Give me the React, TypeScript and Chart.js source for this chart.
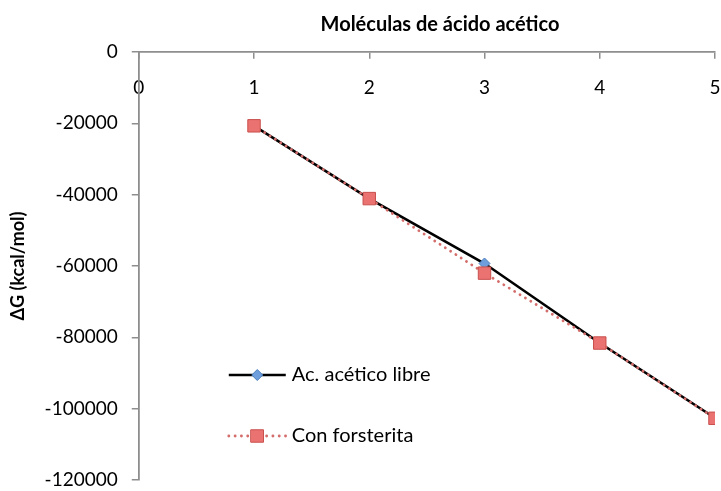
import React, { useEffect, useRef } from 'react';
import { Chart, registerables } from 'chart.js';

Chart.register(...registerables);

// ---- data ----
const categories = [1, 2, 3, 4, 5];
const acidoLibre = [-20700, -41100, -59300, -81600, -102600];
const conForsterita = [-20700, -41100, -62000, -81600, -102700];
const seriesNames = ['Ac. acético libre', 'Con forsterita'];
const xTickValues = [0, 1, 2, 3, 4, 5];
const yTickValues = [0, -20000, -40000, -60000, -80000, -100000, -120000];
const chartTitle = 'Moléculas de ácido acético';
const yAxisTitle = 'ΔG (kcal/mol)';

const FONT = 'Lato';

function drawMarker(ctx: CanvasRenderingContext2D, style: string, x: number, y: number, r: number, fill: string, stroke: string) {
  ctx.beginPath();
  if (style === 'rectRot') {
    ctx.moveTo(x, y - r);
    ctx.lineTo(x + r, y);
    ctx.lineTo(x, y + r);
    ctx.lineTo(x - r, y);
    ctx.closePath();
  } else {
    const s = r * Math.SQRT1_2;
    ctx.rect(x - s, y - s, 2 * s, 2 * s);
  }
  ctx.fillStyle = fill;
  ctx.fill();
  ctx.lineWidth = 1;
  ctx.strokeStyle = stroke;
  ctx.stroke();
}

// title centred over the whole (wider than the window) chart canvas
const wideTitle = {
  id: 'wideTitle',
  afterDraw(chart: any) {
    const ctx: CanvasRenderingContext2D = chart.ctx;
    ctx.save();
    ctx.fillStyle = '#000';
    ctx.font = `bold 20px ${FONT}`;
    ctx.textAlign = 'center';
    ctx.textBaseline = 'middle';
    ctx.fillText(chartTitle, chart.width / 2, 25);
    ctx.restore();
  },
};

const insideLegend = {
  id: 'insideLegend',
  afterDatasetsDraw(chart: any) {
    const ctx: CanvasRenderingContext2D = chart.ctx;
    const left = chart.chartArea.left;
    const rowsY = [375, 436];
    chart.data.datasets.forEach((ds: any, i: number) => {
      const y = rowsY[i];
      const x0 = left + 90;
      const x1 = left + 147;
      ctx.save();
      ctx.strokeStyle = ds.borderColor;
      ctx.lineWidth = ds.borderWidth;
      ctx.lineCap = ds.borderCapStyle || 'butt';
      ctx.setLineDash(ds.borderDash || []);
      ctx.beginPath();
      ctx.moveTo(x0, y);
      ctx.lineTo(x1, y);
      ctx.stroke();
      ctx.setLineDash([]);
      drawMarker(ctx, ds.pointStyle, (x0 + x1) / 2, y, ds.pointRadius, ds.pointBackgroundColor, ds.pointBorderColor);
      ctx.fillStyle = '#000';
      ctx.font = `20px ${FONT}`;
      ctx.textBaseline = 'middle';
      ctx.textAlign = 'left';
      ctx.fillText(ds.label, x1 + 6, y);
      ctx.restore();
    });
  },
};

export default function App() {
  const canvasRef = useRef<HTMLCanvasElement | null>(null);

  useEffect(() => {
    if (!canvasRef.current) return;
    const chart = new Chart(canvasRef.current, {
      type: 'line',
      data: {
        datasets: [
          {
            label: seriesNames[0],
            data: categories.map((c, i) => ({ x: c, y: acidoLibre[i] })),
            borderColor: '#000000',
            borderWidth: 2.6,
            pointStyle: 'rectRot',
            pointRadius: 5.5,
            pointBackgroundColor: '#6E9EDB',
            pointBorderColor: '#4A7EBB',
            pointBorderWidth: 1,
            order: 1,
          },
          {
            label: seriesNames[1],
            data: categories.map((c, i) => ({ x: c, y: conForsterita[i] })),
            borderColor: '#D46E6C',
            borderWidth: 2.8,
            borderDash: [0.1, 6.2],
            borderCapStyle: 'round',
            pointStyle: 'rect',
            pointRadius: 8.8,
            pointBackgroundColor: '#EA7270',
            pointBorderColor: '#C9504D',
            pointBorderWidth: 1,
            order: 0,
          },
        ],
      },
      options: {
        animation: false,
        responsive: true,
        maintainAspectRatio: false,
        layout: { padding: { left: 0, right: 165, top: 52, bottom: 11 } },
        plugins: {
          legend: { display: false },
          tooltip: { enabled: false },
          title: { display: false },
        },
        scales: {
          x: {
            type: 'linear',
            position: { y: 0 } as any,
            min: 0,
            max: 5,
            afterBuildTicks: (scale: any) => {
              scale.ticks = xTickValues.map((v) => ({ value: v }));
            },
            afterFit: (scale: any) => {
              scale.paddingTop = 0;
              scale.paddingBottom = 0;
            },
            ticks: {
              color: '#000',
              font: { family: FONT, size: 19 },
              padding: 18,
              callback: (v: any) => String(v),
            },
            grid: { display: true, drawOnChartArea: false, tickLength: 6, color: '#8E8E8E', lineWidth: 1.5 },
            border: { display: true, color: '#8E8E8E', width: 1.8 },
          },
          y: {
            type: 'linear',
            position: 'left',
            min: -120000,
            max: 0,
            afterBuildTicks: (scale: any) => {
              scale.ticks = yTickValues.map((v) => ({ value: v }));
            },
            afterFit: (scale: any) => {
              scale.paddingTop = 0;
              scale.paddingBottom = 0;
            },
            ticks: {
              color: '#000',
              font: { family: FONT, size: 19 },
              padding: 14,
              callback: (v: any) => String(v),
            },
            grid: { display: true, drawOnChartArea: false, tickLength: 7, color: '#8E8E8E', lineWidth: 1.5 },
            border: { display: true, color: '#8E8E8E', width: 1.8 },
            title: {
              display: true,
              text: yAxisTitle,
              color: '#000',
              font: { family: FONT, size: 18, weight: 'bold' },
              padding: { top: 7, bottom: 2 },
            },
          },
        },
      },
      plugins: [insideLegend, wideTitle],
    });
    return () => chart.destroy();
  }, []);

  return (
    <div style={{ position: 'fixed', left: 0, top: 0, width: 721, height: 491, overflow: 'hidden', background: '#fff' }}>
      <div style={{ position: 'relative', width: 880, height: 491 }}>
        <canvas ref={canvasRef} />
      </div>
    </div>
  );
}
